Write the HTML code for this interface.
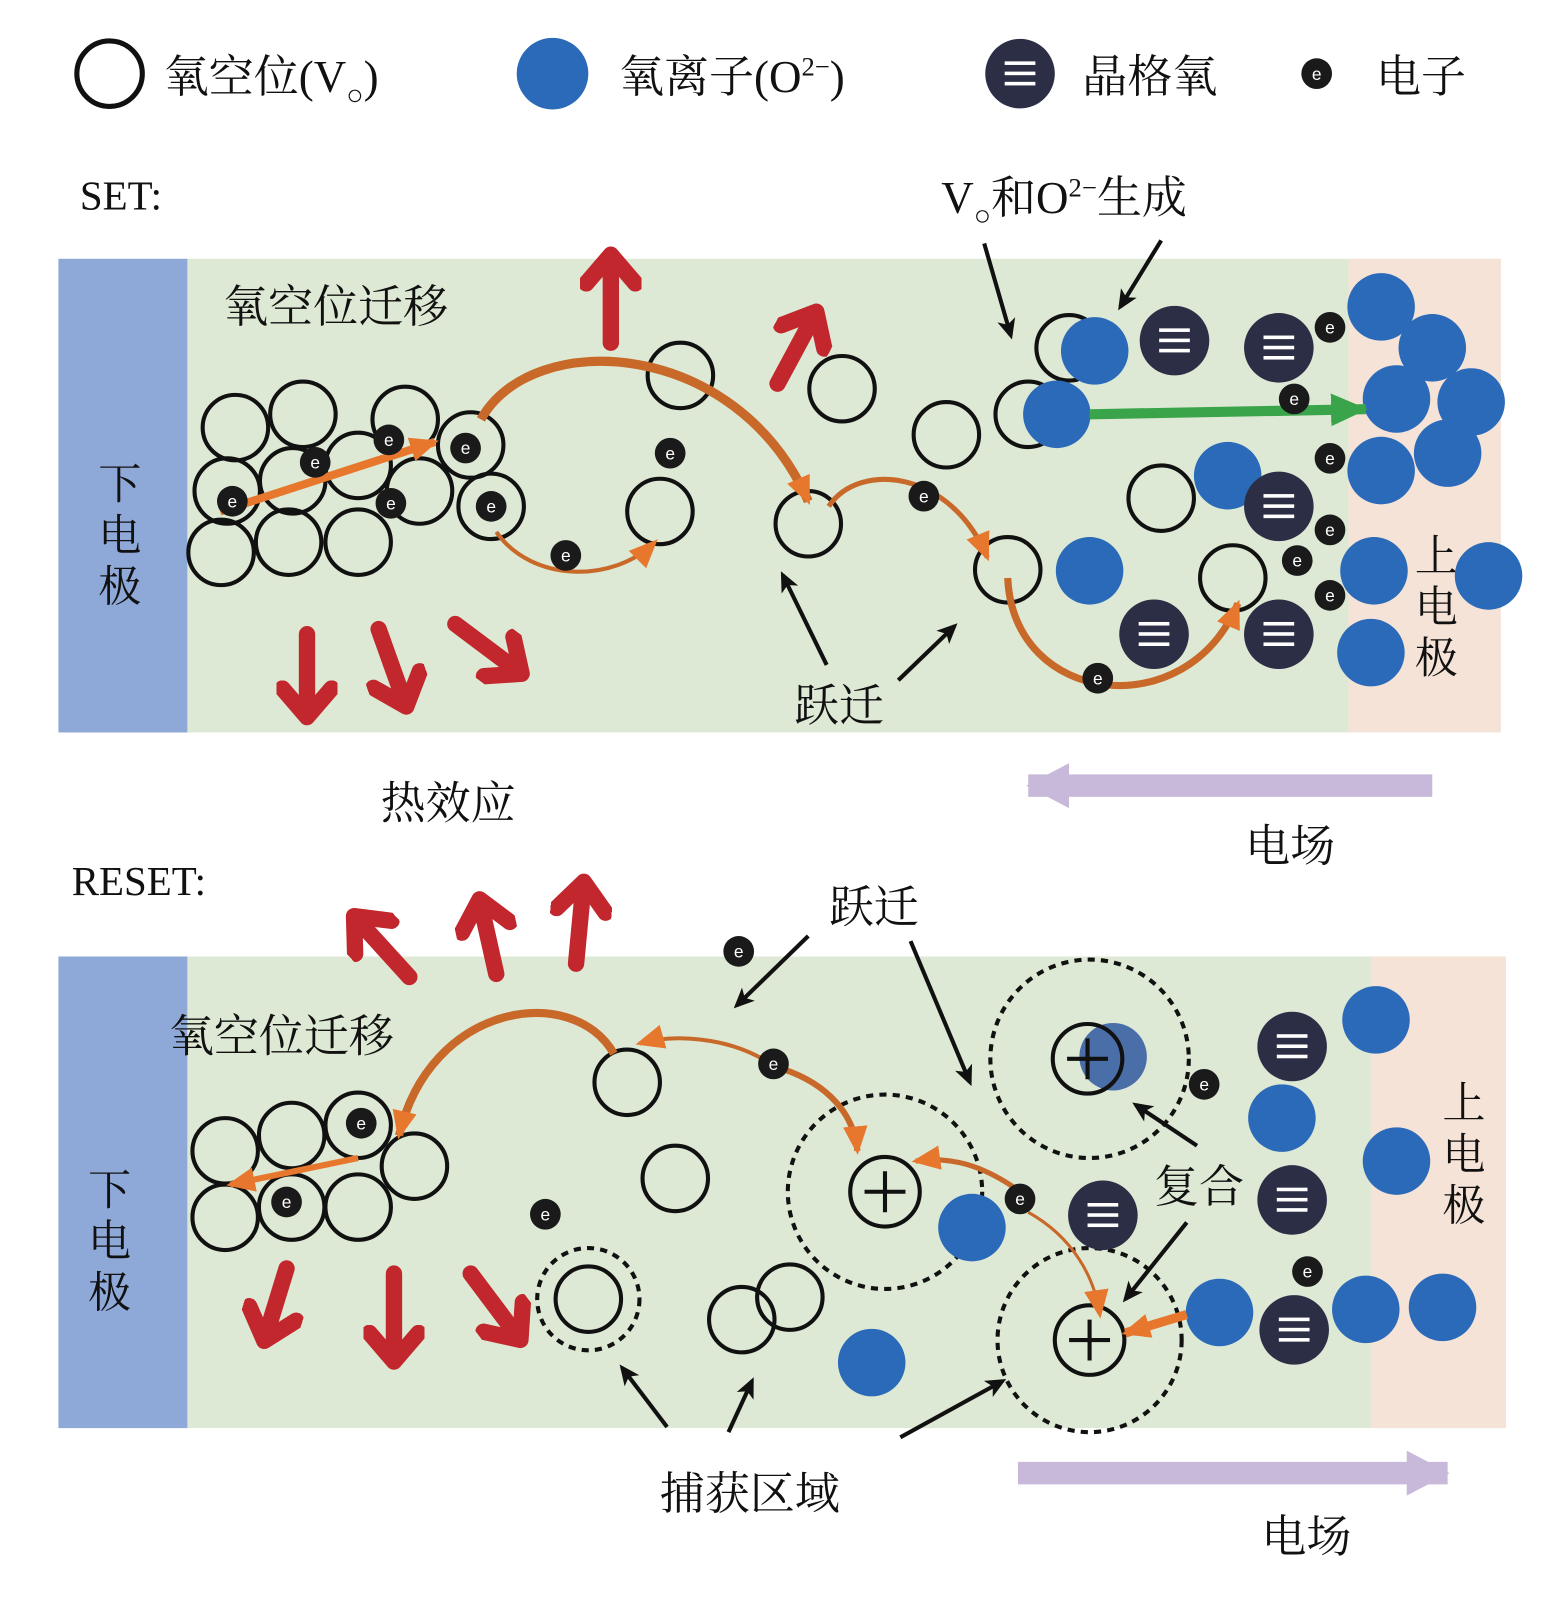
<!DOCTYPE html>
<html><head><meta charset="utf-8"><style>
html,body{margin:0;padding:0;background:#fff}
svg{display:block}
text{font-family:"Liberation Serif","Noto Serif CJK SC",serif;fill:#111}
</style></head><body>
<svg width="1548" height="1603" viewBox="0 0 1513 1567" xmlns="http://www.w3.org/2000/svg">
<defs>
<marker id="abk" markerWidth="22" markerHeight="22" refX="16" refY="11" orient="auto" markerUnits="userSpaceOnUse"><path d="M0,2L20,11L0,20L5,11z" fill="#111"/></marker>
<marker id="ar" markerWidth="60" markerHeight="60" refX="30" refY="30" orient="auto" markerUnits="userSpaceOnUse"><path d="M8,6L36,30L8,54" fill="none" stroke="#c1272d" stroke-width="16" stroke-linecap="round" stroke-linejoin="round"/></marker>
<marker id="ao" markerWidth="30" markerHeight="30" refX="24" refY="15" orient="auto" markerUnits="userSpaceOnUse"><path d="M0,3L28,15L0,27z" fill="#e8772e"/></marker>
<marker id="ag" markerWidth="40" markerHeight="40" refX="34" refY="20" orient="auto" markerUnits="userSpaceOnUse"><path d="M0,4L36,20L0,36z" fill="#3aa44a"/></marker>
<marker id="al" markerWidth="50" markerHeight="50" refX="40" refY="25" orient="auto" markerUnits="userSpaceOnUse"><path d="M0,3L42,25L0,47z" fill="#c8b9da"/></marker>
<g id="vo"><circle r="32" fill="none" stroke="#111" stroke-width="4"/></g>
<g id="el"><circle r="15" fill="#1a1a1a"/><text x="0" y="6" font-size="17" text-anchor="middle" style="fill:#fff;font-family:'Liberation Sans',sans-serif">e</text></g>
<g id="bl"><circle r="33" fill="#2a6ab8"/></g>
<g id="lt"><circle r="34" fill="#2b2e45"/><rect x="-15" y="-12" width="30" height="3.5" fill="#fff"/><rect x="-15" y="-2" width="30" height="3.5" fill="#fff"/><rect x="-15" y="8" width="30" height="3.5" fill="#fff"/></g>
<g id="pl"><circle r="34" fill="none" stroke="#111" stroke-width="4"/><path d="M-20,0H20M0,-20V20" stroke="#111" stroke-width="4"/></g>
</defs>

<!-- legend -->
<circle cx="107" cy="72" r="32" fill="none" stroke="#111" stroke-width="5"/>
<text x="160" y="90" font-size="44">氧空位(V<tspan font-size="28" dy="12">○</tspan><tspan dy="-12">)</tspan></text>
<circle cx="540" cy="72" r="35" fill="#2a6ab8"/>
<text x="605" y="90" font-size="44">氧离子(O<tspan font-size="26" dy="-16">2−</tspan><tspan dy="16">)</tspan></text>
<use href="#lt" x="997" y="72"/>
<text x="1058" y="90" font-size="44">晶格氧</text>
<use href="#el" x="1287" y="72"/>
<text x="1345" y="90" font-size="44">电子</text>

<!-- SET panel -->
<text x="78" y="205" font-size="40">SET:</text>
<rect x="57" y="253" width="1410" height="463" fill="#dde9d4"/>
<rect x="57" y="253" width="126" height="463" fill="#8ea9d8"/>
<rect x="1318" y="253" width="149" height="463" fill="#f6e3d8"/>
<text x="96" y="488" font-size="42">下</text><text x="96" y="538" font-size="42">电</text><text x="96" y="588" font-size="42">极</text>
<text x="1383" y="558" font-size="42">上</text><text x="1383" y="608" font-size="42">电</text><text x="1383" y="658" font-size="42">极</text>
<text x="218" y="315" font-size="44">氧空位迁移</text>
<text x="920" y="208" font-size="44">V<tspan font-size="28" dy="12">○</tspan><tspan dy="-12">和O</tspan><tspan font-size="26" dy="-16">2−</tspan><tspan dy="16">生成</tspan></text>
<text x="776" y="705" font-size="44">跃迁</text>
<text x="372" y="800" font-size="44">热效应</text>
<text x="1217" y="842" font-size="44">电场</text>
<line x1="1400" y1="768" x2="1005" y2="768" stroke="#c8b9da" stroke-width="22" marker-end="url(#al)"/>

<g>
<use href="#vo" x="230" y="418"/><use href="#vo" x="296" y="405"/><use href="#vo" x="396" y="410"/>
<use href="#vo" x="222" y="480"/><use href="#vo" x="286" y="470"/><use href="#vo" x="350" y="455"/><use href="#vo" x="410" y="480"/>
<use href="#vo" x="216" y="540"/><use href="#vo" x="282" y="530"/><use href="#vo" x="350" y="530"/>
<use href="#vo" x="460" y="435"/><use href="#vo" x="480" y="495"/><use href="#vo" x="665" y="367"/><use href="#vo" x="823" y="380"/>
<use href="#vo" x="645" y="500"/><use href="#vo" x="790" y="512"/><use href="#vo" x="925" y="425"/><use href="#vo" x="985" y="557"/>
<use href="#vo" x="1045" y="340"/><use href="#vo" x="1005" y="405"/><use href="#vo" x="1135" y="487"/><use href="#vo" x="1205" y="565"/>
</g>
<g>
<use href="#bl" x="1070" y="343"/><use href="#bl" x="1033" y="405"/><use href="#bl" x="1200" y="465"/><use href="#bl" x="1065" y="558"/>
<use href="#bl" x="1350" y="300"/><use href="#bl" x="1400" y="340"/><use href="#bl" x="1365" y="390"/><use href="#bl" x="1438" y="393"/>
<use href="#bl" x="1415" y="443"/><use href="#bl" x="1350" y="460"/><use href="#bl" x="1343" y="558"/><use href="#bl" x="1455" y="563"/><use href="#bl" x="1340" y="638"/>
<use href="#lt" x="1148" y="333"/><use href="#lt" x="1250" y="340"/><use href="#lt" x="1250" y="495"/><use href="#lt" x="1128" y="620"/><use href="#lt" x="1250" y="620"/>
</g>
<line x1="1065" y1="405" x2="1335" y2="400" stroke="#3aa44a" stroke-width="10" marker-end="url(#ag)"/>
<line x1="215" y1="500" x2="425" y2="432" stroke="#e8772e" stroke-width="8" marker-end="url(#ao)"/>
<path d="M470,410 C520,320 720,330 790,490" fill="none" stroke="#c8692a" stroke-width="9" marker-end="url(#ao)"/>
<path d="M485,520 C520,570 600,570 640,530" fill="none" stroke="#c8692a" stroke-width="4" marker-end="url(#ao)"/>
<path d="M810,495 C840,450 930,460 965,545" fill="none" stroke="#c8692a" stroke-width="5" marker-end="url(#ao)"/>
<path d="M985,565 C990,690 1160,710 1210,590" fill="none" stroke="#c8692a" stroke-width="7" marker-end="url(#ao)"/>
<g>
<use href="#el" x="227" y="490"/><use href="#el" x="308" y="452"/><use href="#el" x="380" y="430"/><use href="#el" x="382" y="492"/>
<use href="#el" x="455" y="438"/><use href="#el" x="480" y="495"/><use href="#el" x="655" y="443"/><use href="#el" x="553" y="543"/>
<use href="#el" x="903" y="485"/><use href="#el" x="1073" y="663"/><use href="#el" x="1300" y="320"/><use href="#el" x="1265" y="390"/>
<use href="#el" x="1300" y="448"/><use href="#el" x="1300" y="518"/><use href="#el" x="1268" y="548"/><use href="#el" x="1300" y="582"/>
</g>
<g stroke="#c1272d" stroke-width="16" stroke-linecap="round">
<line x1="597" y1="335" x2="597" y2="255" marker-end="url(#ar)"/>
<line x1="760" y1="375" x2="795" y2="310" marker-end="url(#ar)"/>
<line x1="300" y1="620" x2="300" y2="695" marker-end="url(#ar)"/>
<line x1="370" y1="615" x2="395" y2="685" marker-end="url(#ar)"/>
<line x1="445" y1="610" x2="505" y2="655" marker-end="url(#ar)"/>
</g>
<g stroke="#111" stroke-width="4">
<line x1="962" y1="238" x2="988" y2="328" marker-end="url(#abk)"/>
<line x1="1135" y1="235" x2="1095" y2="300" marker-end="url(#abk)"/>
<line x1="808" y1="650" x2="765" y2="562" marker-end="url(#abk)"/>
<line x1="878" y1="665" x2="933" y2="612" marker-end="url(#abk)"/>
</g>

<!-- RESET panel -->
<text x="70" y="875" font-size="40">RESET:</text>
<rect x="57" y="935" width="1415" height="461" fill="#dde9d4"/>
<rect x="57" y="935" width="126" height="461" fill="#8ea9d8"/>
<rect x="1340" y="935" width="132" height="461" fill="#f6e3d8"/>
<text x="86" y="1178" font-size="42">下</text><text x="86" y="1228" font-size="42">电</text><text x="86" y="1278" font-size="42">极</text>
<text x="1410" y="1093" font-size="42">上</text><text x="1410" y="1143" font-size="42">电</text><text x="1410" y="1193" font-size="42">极</text>
<text x="165" y="1028" font-size="44">氧空位迁移</text>
<text x="810" y="902" font-size="44">跃迁</text>
<text x="1128" y="1175" font-size="44">复合</text>
<text x="645" y="1475" font-size="44">捕获区域</text>
<text x="1233" y="1517" font-size="44">电场</text>
<line x1="995" y1="1440" x2="1415" y2="1440" stroke="#c8b9da" stroke-width="22" marker-end="url(#al)"/>

<g fill="none" stroke="#111" stroke-width="4" stroke-dasharray="7,6">
<circle cx="575" cy="1270" r="50"/><circle cx="865" cy="1165" r="95"/><circle cx="1065" cy="1035" r="97"/><circle cx="1065" cy="1310" r="90"/>
</g>
<g>
<use href="#vo" x="220" y="1125"/><use href="#vo" x="285" y="1110"/><use href="#vo" x="350" y="1100"/><use href="#vo" x="405" y="1140"/>
<use href="#vo" x="220" y="1190"/><use href="#vo" x="285" y="1180"/><use href="#vo" x="350" y="1180"/>
<use href="#vo" x="613" y="1058"/><use href="#vo" x="660" y="1152"/><use href="#vo" x="725" y="1290"/><use href="#vo" x="772" y="1268"/><use href="#vo" x="575" y="1270"/>
<use href="#bl" x="950" y="1200"/><use href="#bl" x="852" y="1332"/><use href="#bl" x="1345" y="997"/><use href="#bl" x="1253" y="1093"/>
<use href="#bl" x="1365" y="1135"/><use href="#bl" x="1192" y="1283"/><use href="#bl" x="1335" y="1280"/><use href="#bl" x="1410" y="1278"/>
<circle cx="1088" cy="1033" r="33" fill="#4a6ea8"/>
<use href="#lt" x="1263" y="1023"/><use href="#lt" x="1078" y="1188"/><use href="#lt" x="1263" y="1173"/><use href="#lt" x="1265" y="1300"/>
<use href="#pl" x="865" y="1165"/><use href="#pl" x="1063" y="1035"/><use href="#pl" x="1065" y="1310"/>
</g>
<line x1="350" y1="1132" x2="225" y2="1158" stroke="#e8772e" stroke-width="6" marker-end="url(#ao)"/>
<line x1="1160" y1="1285" x2="1100" y2="1303" stroke="#e8772e" stroke-width="9" marker-end="url(#ao)"/>
<path d="M600,1030 C560,960 420,980 390,1110" fill="none" stroke="#c8692a" stroke-width="8" marker-end="url(#ao)"/>
<path d="M745,1035 C710,1015 660,1010 625,1020" fill="none" stroke="#c8692a" stroke-width="4" marker-end="url(#ao)"/>
<path d="M765,1045 C810,1060 835,1090 838,1125" fill="none" stroke="#c8692a" stroke-width="6" marker-end="url(#ao)"/>
<path d="M990,1160 C960,1140 930,1130 895,1135" fill="none" stroke="#c8692a" stroke-width="5" marker-end="url(#ao)"/>
<path d="M1005,1185 C1050,1210 1070,1250 1075,1285" fill="none" stroke="#c8692a" stroke-width="3" marker-end="url(#ao)"/>
<g>
<use href="#el" x="722" y="930"/><use href="#el" x="756" y="1040"/><use href="#el" x="533" y="1187"/><use href="#el" x="353" y="1098"/>
<use href="#el" x="280" y="1175"/><use href="#el" x="997" y="1172"/><use href="#el" x="1177" y="1060"/><use href="#el" x="1278" y="1243"/>
</g>
<g stroke="#c1272d" stroke-width="16" stroke-linecap="round">
<line x1="400" y1="955" x2="350" y2="900" marker-end="url(#ar)"/>
<line x1="485" y1="952" x2="470" y2="885" marker-end="url(#ar)"/>
<line x1="563" y1="942" x2="570" y2="868" marker-end="url(#ar)"/>
<line x1="280" y1="1240" x2="260" y2="1305" marker-end="url(#ar)"/>
<line x1="385" y1="1245" x2="385" y2="1325" marker-end="url(#ar)"/>
<line x1="460" y1="1245" x2="505" y2="1305" marker-end="url(#ar)"/>
</g>
<g stroke="#111" stroke-width="4">
<line x1="790" y1="915" x2="720" y2="983" marker-end="url(#abk)"/>
<line x1="890" y1="920" x2="948" y2="1058" marker-end="url(#abk)"/>
<line x1="1170" y1="1120" x2="1110" y2="1080" marker-end="url(#abk)"/>
<line x1="1160" y1="1195" x2="1100" y2="1270" marker-end="url(#abk)"/>
<line x1="652" y1="1395" x2="608" y2="1337" marker-end="url(#abk)"/>
<line x1="712" y1="1400" x2="735" y2="1350" marker-end="url(#abk)"/>
<line x1="880" y1="1405" x2="980" y2="1350" marker-end="url(#abk)"/>
</g>
</svg>
</body></html>
